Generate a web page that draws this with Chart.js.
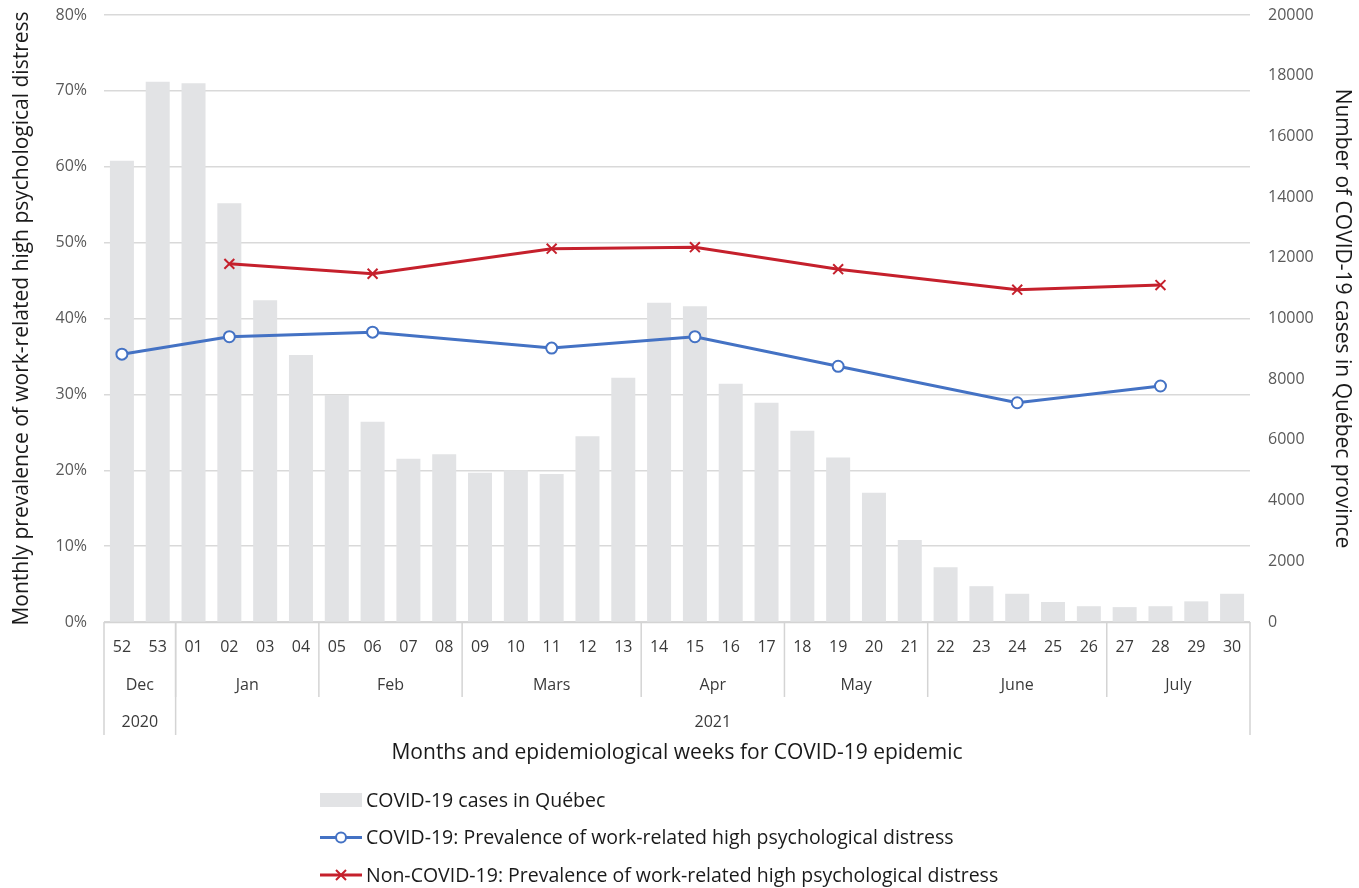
<!DOCTYPE html>
<html lang="en">
<head>
  <meta charset="UTF-8">
  <title>COVID-19 cases and psychological distress</title>
  <script src="https://cdn.jsdelivr.net/npm/chart.js"></script>
  <style>
    body { margin: 0; background: #fff; }
    #wrap { width: 1359px; height: 888px; }
  </style>
</head>
<body>
  <div id="wrap"><canvas id="distressChart"></canvas></div>
  <script>
    const weeks = ['52','53','01','02','03','04','05','06','07','08','09','10','11','12','13','14','15','16','17','18','19','20','21','22','23','24','25','26','27','28','29','30'];
    const monthNames = ['Dec','Jan','Feb','Mars','Apr','May','June','July'];
    const monthSpans = [2, 4, 4, 5, 4, 4, 5, 4];
    const yearNames = ['2020','2021'];
    const yearSpans = [2, 30];

    // weekly COVID-19 cases in Québec
    const cases = [15200, 17800, 17750, 13800, 10600, 8800, 7480, 6600, 5380, 5530,
                   4920, 5000, 4880, 6120, 8050, 10520, 10400, 7850, 7220, 6300,
                   5420, 4260, 2700, 1800, 1180, 930, 660, 520, 490, 520, 680, 930];
    // monthly prevalence (%), placed on one week per month
    const covidPrev = [35.3, null, null, 37.6, null, null, null, 38.2, null, null,
                       null, null, 36.1, null, null, null, 37.6, null, null, null,
                       33.7, null, null, null, null, 28.9, null, null, null, 31.1, null, null];
    const nonCovidPrev = [null, null, null, 47.2, null, null, null, 45.9, null, null,
                          null, null, 49.2, null, null, null, 49.4, null, null, null,
                          46.5, null, null, null, null, 43.8, null, null, null, 44.4, null, null];

    const FONT = '"Open Sans", "Noto Sans", sans-serif';
    const BLUE = '#4472c4';
    const RED = '#c5202c';
    const BARC = '#e2e3e5';
    const SEP = '#d4d4d4';

    const axisRows = {
      id: 'axisRows',
      afterDraw(chart) {
        const ctx = chart.ctx;
        const x = chart.scales.x;
        const area = chart.chartArea;
        const step = x.getPixelForValue(1) - x.getPixelForValue(0);
        const rowMonth = area.bottom + 75, rowYear = area.bottom + 113;
        ctx.save();
        // axis line
        ctx.strokeStyle = SEP;
        ctx.lineWidth = 1.5;
        ctx.beginPath();
        ctx.moveTo(area.left, area.bottom + 0.5);
        ctx.lineTo(area.right, area.bottom + 0.5);
        ctx.stroke();

        ctx.textAlign = 'center';
        ctx.textBaseline = 'middle';
        ctx.fillStyle = '#3a3a3a';
        ctx.font = '16px ' + FONT;
        weeks.forEach((w, i) => ctx.fillText(w, x.getPixelForValue(i), area.bottom + 25));

        // edges
        ctx.beginPath();
        ctx.moveTo(area.left, area.bottom); ctx.lineTo(area.left, rowYear);
        ctx.moveTo(area.right, area.bottom); ctx.lineTo(area.right, rowYear);
        ctx.stroke();

        let idx = 0;
        monthNames.forEach((m, k) => {
          const first = idx, last = idx + monthSpans[k] - 1;
          const cx = (x.getPixelForValue(first) + x.getPixelForValue(last)) / 2;
          ctx.fillText(m, cx, area.bottom + 63);
          idx += monthSpans[k];
          if (k < monthNames.length - 1) {
            const bx = x.getPixelForValue(idx) - step / 2;
            ctx.beginPath();
            ctx.moveTo(bx, area.bottom); ctx.lineTo(bx, rowMonth);
            ctx.stroke();
          }
        });

        idx = 0;
        yearNames.forEach((y, k) => {
          const first = idx, last = idx + yearSpans[k] - 1;
          const cx = (x.getPixelForValue(first) + x.getPixelForValue(last)) / 2;
          ctx.fillText(y, cx, area.bottom + 100);
          idx += yearSpans[k];
          if (k < yearNames.length - 1) {
            const bx = x.getPixelForValue(idx) - step / 2;
            ctx.beginPath();
            ctx.moveTo(bx, area.bottom); ctx.lineTo(bx, rowYear);
            ctx.stroke();
          }
        });

        // x axis title
        ctx.fillStyle = '#1a1a1a';
        ctx.font = '21px ' + FONT;
        ctx.fillText('Months and epidemiological weeks for COVID-19 epidemic', (area.left + area.right) / 2, area.bottom + 131);

        // legend
        const lx = 320, tx = 366;
        const items = [
          { label: 'COVID-19 cases in Québec', type: 'bar' },
          { label: 'COVID-19: Prevalence of work-related high psychological distress', type: 'circle', color: BLUE },
          { label: 'Non-COVID-19: Prevalence of work-related high psychological distress', type: 'cross', color: RED }
        ];
        ctx.textAlign = 'left';
        ctx.font = '19.5px ' + FONT;
        items.forEach((it, k) => {
          const yy = area.bottom + 178 + k * 37.5;
          if (it.type === 'bar') {
            ctx.fillStyle = BARC;
            ctx.fillRect(lx, yy - 7, 42, 14);
          } else {
            ctx.strokeStyle = it.color;
            ctx.lineWidth = 3;
            ctx.beginPath();
            ctx.moveTo(lx, yy); ctx.lineTo(lx + 42, yy);
            ctx.stroke();
            if (it.type === 'circle') {
              ctx.fillStyle = '#fff';
              ctx.lineWidth = 2;
              ctx.beginPath();
              ctx.arc(lx + 21, yy, 5, 0, Math.PI * 2);
              ctx.fill(); ctx.stroke();
            } else {
              ctx.lineWidth = 2;
              ctx.beginPath();
              ctx.moveTo(lx + 16, yy - 5); ctx.lineTo(lx + 26, yy + 5);
              ctx.moveTo(lx + 26, yy - 5); ctx.lineTo(lx + 16, yy + 5);
              ctx.stroke();
            }
          }
          ctx.fillStyle = '#1a1a1a';
          ctx.fillText(it.label, tx, yy + 1);
        });
        ctx.restore();
      }
    };

    new Chart(document.getElementById('distressChart'), {
      data: {
        labels: weeks,
        datasets: [
          {
            type: 'line',
            label: 'COVID-19: Prevalence of work-related high psychological distress',
            data: covidPrev,
            yAxisID: 'y',
            borderColor: BLUE,
            borderWidth: 3,
            spanGaps: true,
            pointStyle: 'circle',
            pointRadius: 5.5,
            pointBorderWidth: 2,
            pointBackgroundColor: '#fff',
            pointBorderColor: BLUE,
            order: 1
          },
          {
            type: 'line',
            label: 'Non-COVID-19: Prevalence of work-related high psychological distress',
            data: nonCovidPrev,
            yAxisID: 'y',
            borderColor: RED,
            borderWidth: 3,
            spanGaps: true,
            pointStyle: 'cross',
            rotation: 45,
            pointRadius: 7,
            pointBorderWidth: 2,
            pointBorderColor: RED,
            order: 1
          },
          {
            type: 'bar',
            label: 'COVID-19 cases in Québec',
            data: cases,
            yAxisID: 'y1',
            backgroundColor: BARC,
            categoryPercentage: 1,
            barPercentage: 0.67,
            order: 2
          }
        ]
      },
      options: {
        responsive: true,
        maintainAspectRatio: false,
        animation: false,
        layout: { padding: { top: 15, bottom: 266, left: 0, right: 0 } },
        plugins: { legend: { display: false }, tooltip: { enabled: false } },
        scales: {
          x: {
            display: false
          },
          y: {
            position: 'left',
            min: 0, max: 80,
            ticks: { stepSize: 10, color: '#595959', font: { size: 16, family: FONT }, padding: 17,
                     callback: v => v + '%' },
            grid: { color: '#d9d9d9', lineWidth: 1.5, drawTicks: false },
            border: { display: false },
            title: { display: true, text: 'Monthly prevalence of work-related high psychological distress',
                     color: '#1a1a1a', font: { size: 21, family: FONT }, padding: { top: 9, bottom: 0 } },
            afterFit: s => { s.width = 104; s.paddingTop = 0; s.paddingBottom = 0; }
          },
          y1: {
            position: 'right',
            min: 0, max: 20000,
            ticks: { stepSize: 2000, color: '#595959', font: { size: 16, family: FONT }, padding: 18,
                     callback: v => String(v) },
            grid: { display: false, drawTicks: false },
            border: { display: false },
            title: { display: true, text: 'Number of COVID-19 cases in Québec province',
                     color: '#1a1a1a', font: { size: 21, family: FONT }, padding: { top: 4, bottom: 0 } },
            afterFit: s => { s.width = 109; s.paddingTop = 0; s.paddingBottom = 0; }
          }
        }
      },
      plugins: [axisRows]
    });
  </script>
</body>
</html>
